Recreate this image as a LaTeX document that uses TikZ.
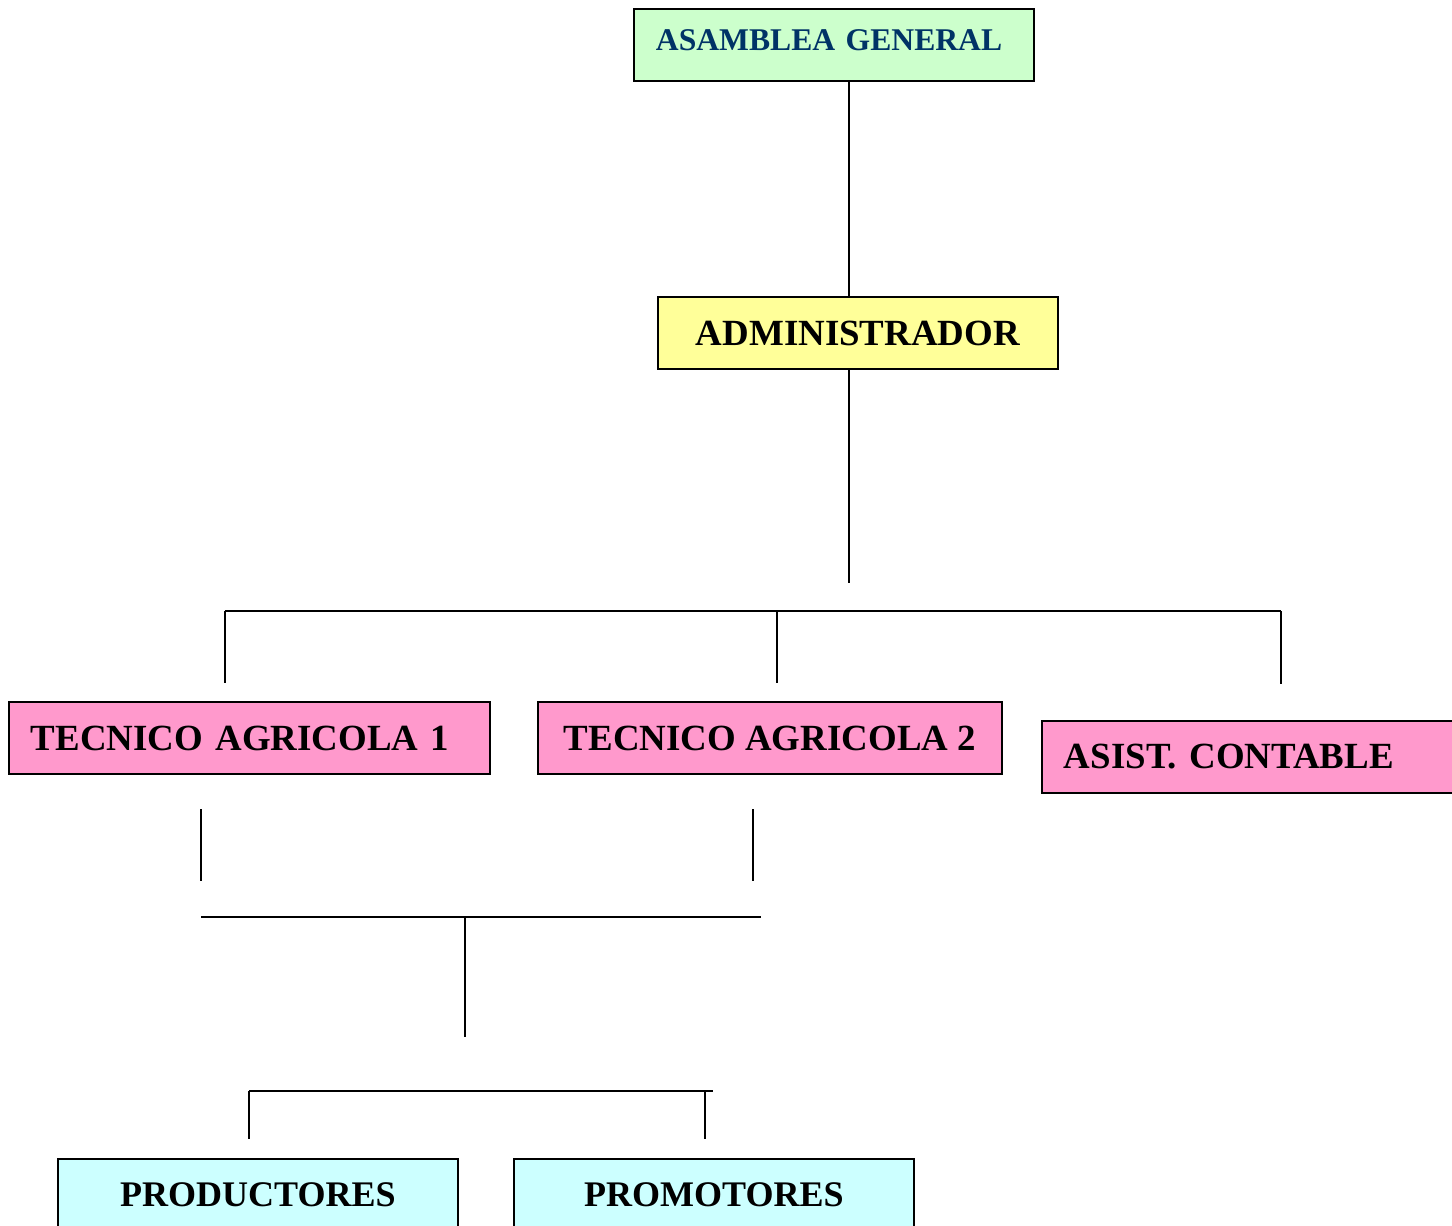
\documentclass[tikz,border=0pt]{standalone}
\usepackage{fontspec}
\setmainfont{Liberation Serif}
\usetikzlibrary{positioning}

\begin{document}
\begin{tikzpicture}[x=0.02cm, y=-0.02cm, line width=1.1pt,
    every node/.style={font=\bfseries\fontsize{21}{25}\selectfont},
    orgbox/.style={draw=black, minimum height=1.44cm, anchor=north west, inner sep=0pt}]
        \definecolor{orggreen}{RGB}{204,255,204}
        \definecolor{orgyellow}{RGB}{255,255,153}
        \definecolor{orgpink}{RGB}{255,153,204}
        \definecolor{orgcyan}{RGB}{204,255,255}
        \definecolor{orgnavy}{RGB}{0,51,102}

        \path[use as bounding box, clip] (0,0) rectangle (1452,1225);

        % Boxes
        \node[orgbox, fill=orggreen, text=orgnavy, inner xsep=0.44cm, text width=7.12cm, text depth=0.2cm, align=left, font=\bfseries\fontsize{18}{22}\selectfont] (asamblea) at (633,8) {ASAMBLEA GENERAL};
        \node[orgbox, fill=orgyellow, minimum width=8cm] (admin) at (657,296) {ADMINISTRADOR};
        \node[orgbox, fill=orgpink, inner xsep=0.44cm, text width=8.74cm, align=left] (tecnico1) at (8,701) {TECNICO AGRICOLA 1};
        \node[orgbox, fill=orgpink, minimum width=9.28cm] (tecnico2) at (537,701) {TECNICO AGRICOLA 2};
        \node[orgbox, fill=orgpink, inner xsep=0.44cm, text width=7.52cm, align=left] (contable) at (1041,720) {ASIST. CONTABLE};
        \node[orgbox, fill=orgcyan, minimum width=8cm, font=\bfseries\fontsize{20.5}{24}\selectfont] (productores) at (57,1158) {PRODUCTORES};
        \node[orgbox, fill=orgcyan, minimum width=8cm, font=\bfseries\fontsize{20.5}{24}\selectfont] (promotores) at (513,1158) {PROMOTORES};

        % Lines from the top
        \coordinate (adminfoot) at (849,583);
        \draw (asamblea.south -| adminfoot) -- (admin.north -| adminfoot);
        \draw (admin.south -| adminfoot) -- (adminfoot);

        % Upper bar and drops
        \coordinate (barleft) at (225,611);
        \coordinate (barmid) at (777,611);
        \coordinate (barright) at (1281,611);
        \coordinate (dropleft) at (225,683);
        \coordinate (dropmid) at (777,683);
        \coordinate (dropright) at (1281,684);
        \draw (barleft) -- (barright);
        \draw (barleft) -- (dropleft);
        \draw (barmid) -- (dropmid);
        \draw (barright) -- (dropright);

        % Lower bar under the technicians
        \coordinate (riseleft) at (201,809);
        \coordinate (riseright) at (753,809);
        \coordinate (lowleft) at (201,917);
        \coordinate (lowright) at (761,917);
        \coordinate (stemtop) at (465,917);
        \coordinate (stemfoot) at (465,1037);
        \draw (riseleft) -- (201,881);
        \draw (riseright) -- (753,881);
        \draw (lowleft) -- (lowright);
        \draw (stemtop) -- (stemfoot);

        % Bottom bar
        \coordinate (footleft) at (249,1091);
        \coordinate (footright) at (713,1091);
        \coordinate (legleft) at (249,1139);
        \coordinate (legright) at (705,1139);
        \draw (footleft) -- (footright);
        \draw (footleft) -- (legleft);
        \draw (legright |- footleft) -- (legright);
    \end{tikzpicture}
\end{document}
